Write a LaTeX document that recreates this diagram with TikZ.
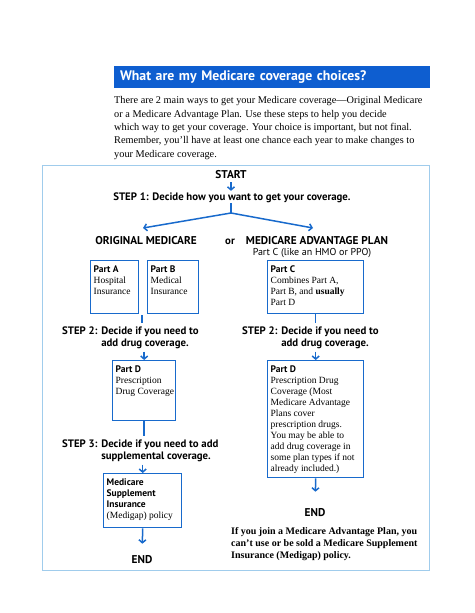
\documentclass[tikz,border=0pt]{standalone}
\usepackage{fontspec}
\setmainfont{Liberation Serif}
\setsansfont{PT Sans}
\usetikzlibrary{arrows.meta}
\definecolor{flowblue}{RGB}{24,106,204}
\definecolor{barblue}{RGB}{14,94,208}
\definecolor{frameblue}{RGB}{160,204,236}
\newcommand{\partbody}[3]{\parbox[c][#2][t]{#1}{\begin{tabular}[t]{@{}l@{}}#3\end{tabular}}}
\newcommand{\plabel}[1]{\textsf{\bfseries #1}}
\tikzset{
  head/.style={font=\sffamily\bfseries\fontsize{10.8}{12}\selectfont,inner sep=0pt},
  capshead/.style={head,font=\sffamily\bfseries\fontsize{11.3}{12}\selectfont},
  steptext/.style={head,align=left,anchor=west},
  partbox/.style={draw=flowblue,line width=1.4pt,fill=white,anchor=north west,
    inner xsep=3pt,inner ysep=4pt,font=\fontsize{9.5}{11}\selectfont},
  link/.style={flowblue,line width=1.5pt,shorten >=3pt},
  arr/.style={flowblue,line width=1.5pt,-{Straight Barb[length=3pt,width=7pt]},shorten <=3pt},
  titlebar/.style={fill=barblue,text=white,minimum height=22pt,text width=304pt,
    inner xsep=6pt,inner ysep=0pt,align=left,
    font=\sffamily\bfseries\fontsize{13.8}{15}\selectfont}
}
\begin{document}
\begin{tikzpicture}[x=1pt,y=-1pt]
\useasboundingbox (0,0) rectangle (474,613);
\node[titlebar] (title) at (272,77) {What are my Medicare coverage choices?};
\node[font=\fontsize{10.3}{13.3}\selectfont,align=left,anchor=north west,inner sep=0pt] (intro) at (114,96.5)
  {There are 2 main ways to get your Medicare coverage—Original Medicare\\
   or a Medicare Advantage Plan. Use these steps to help you decide\\
   which way to get your coverage. Your choice is important, but not final.\\
   Remember, you’ll have at least one chance each year to make changes to\\
   your Medicare coverage.};
\draw[frameblue,line width=1pt] (42,165) rectangle (429,570);
\node[capshead] (start) at (231,175) {START};
\node[head] (step1) at (232,198) {STEP 1: Decide how you want to get your coverage.};
\coordinate (fork) at (231,213);
\coordinate (tipL) at (143,228);
\coordinate (tipR) at (313,228);
\node[capshead] (orig) at (146,241) {ORIGINAL MEDICARE};
\node[head] (orword) at (230,242) {or};
\node[capshead] (adv) at (317,241) {MEDICARE ADVANTAGE PLAN};
\node[font=\sffamily\fontsize{10}{12}\selectfont,inner sep=0pt] (advnote) at (312,253) {Part C (like an HMO or PPO)};
\node[partbox] (partA) at (90,260) {\partbody{42pt}{45pt}{\plabel{Part A}\\Hospital\\Insurance}};
\node[partbox] (partB) at (147,260) {\partbody{45pt}{45pt}{\plabel{Part B}\\Medical\\Insurance}};
\node[partbox] (partC) at (267,260) {\partbody{90pt}{45pt}{\plabel{Part C}\\Combines Part A,\\Part B, and \textbf{usually}\\Part D}};
\coordinate (abjoin) at (142,315);
\node[steptext] (step2L) at (62,337.5) {STEP 2: Decide if you need to\\\phantom{STEP 2: }add drug coverage.};
\node[steptext] (step2R) at (242,337.5) {STEP 2: Decide if you need to\\\phantom{STEP 2: }add drug coverage.};
\node[partbox] (partDL) at (112,360) {\partbody{57pt}{52pt}{\plabel{Part D}\\Prescription\\Drug Coverage}};
\node[partbox] (partDR) at (267,360) {\partbody{90pt}{109pt}{\plabel{Part D}\\Prescription Drug\\Coverage (Most\\Medicare Advantage\\Plans cover\\prescription drugs.\\You may be able to\\add drug coverage in\\some plan types if not\\already included.)}};
\node[steptext] (step3L) at (62,450.5) {STEP 3: Decide if you need to add\\\phantom{STEP 3: }supplemental coverage.};
\node[partbox] (medigap) at (103,473) {\partbody{72pt}{46pt}{\plabel{Medicare}\\\plabel{Supplement}\\\plabel{Insurance}\\(Medigap) policy}};
\node[capshead] (endR) at (315,513) {END};
\node[font=\bfseries\fontsize{10}{12.3}\selectfont,align=left,anchor=north west,inner sep=0pt] (advwarn) at (231,527)
  {If you join a Medicare Advantage Plan, you\\
   can’t use or be sold a Medicare Supplement\\
   Insurance (Medigap) policy.};
\node[capshead] (endL) at (142,560) {END};
\draw[arr,shorten >=2pt] (start) -- (start |- step1.north);
\draw[link,shorten >=0pt] (step1.south -| fork) -- (fork);
\draw[arr,shorten <=0pt] (fork) -- (tipL);
\draw[arr,shorten <=0pt] (fork) -- (tipR);
\draw[link] (abjoin) -- (abjoin |- step2L.north);
\draw[arr] (partDL.north |- step2L.south) -- (partDL.north);
\draw[link] (partDL.south) -- (partDL.south |- step3L.north);
\draw[arr] (medigap.north |- step3L.south) -- (medigap.north);
\draw[arr,shorten <=0pt,shorten >=12pt] (medigap.south) -- (endL.north);
\draw[link] (partC.south) -- (partC.south |- step2R.north);
\draw[arr] (partDR.north |- step2R.south) -- (partDR.north);
\draw[arr,shorten <=0pt,shorten >=17pt] (partDR.south) -- (endR.north);
\end{tikzpicture}
\end{document}
